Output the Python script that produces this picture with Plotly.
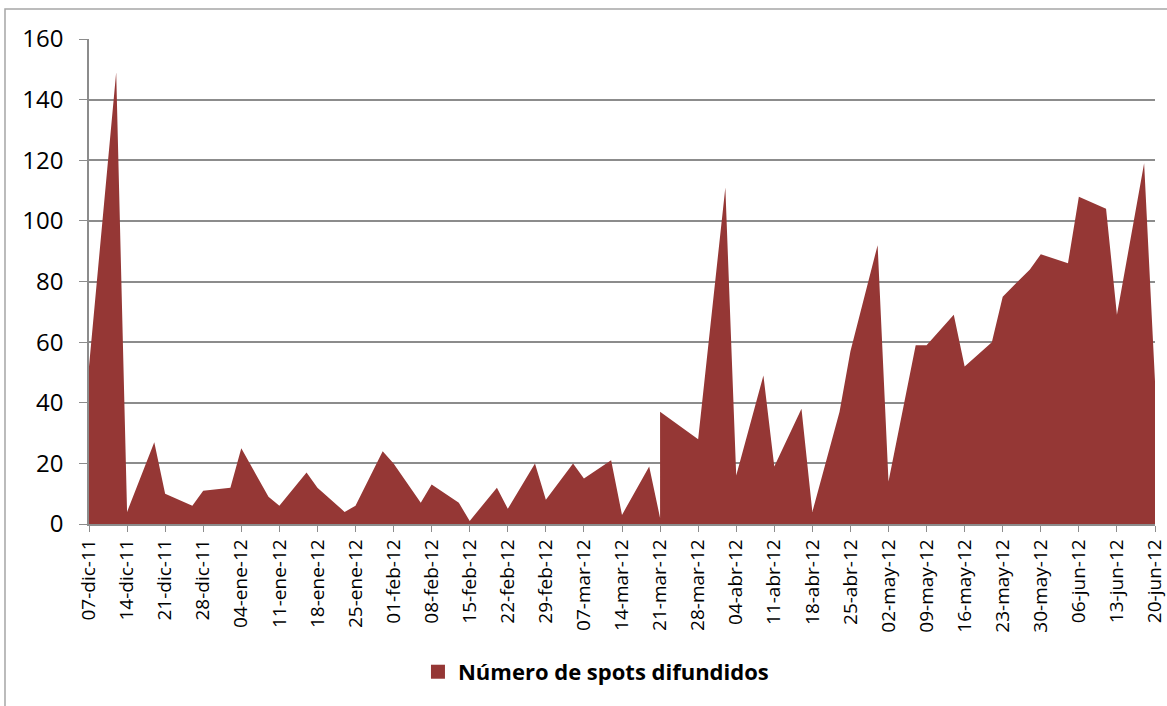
import pandas as pd
import plotly.graph_objects as go

# Spots broadcast per date
DATES = [
    '2011-12-07', '2011-12-12', '2011-12-14', '2011-12-19', '2011-12-21',
    '2011-12-26', '2011-12-28', '2012-01-02', '2012-01-04', '2012-01-09',
    '2012-01-11', '2012-01-16', '2012-01-18', '2012-01-23', '2012-01-25',
    '2012-01-30', '2012-02-01', '2012-02-06', '2012-02-08', '2012-02-13',
    '2012-02-15', '2012-02-20', '2012-02-22', '2012-02-27', '2012-02-29',
    '2012-03-05', '2012-03-07', '2012-03-12', '2012-03-14', '2012-03-19',
    '2012-03-21', '2012-03-21', '2012-03-28', '2012-04-02', '2012-04-04',
    '2012-04-09', '2012-04-11', '2012-04-16', '2012-04-18', '2012-04-23',
    '2012-04-25', '2012-04-30', '2012-05-02', '2012-05-07', '2012-05-09',
    '2012-05-14', '2012-05-16', '2012-05-21', '2012-05-23', '2012-05-28',
    '2012-05-30', '2012-06-04', '2012-06-06', '2012-06-11', '2012-06-13',
    '2012-06-18', '2012-06-20',
]
SPOTS = [
    52, 149, 4, 27, 10,
    6, 11, 12, 25, 9,
    6, 17, 12, 4, 6,
    24, 20, 7, 13, 7,
    1, 12, 5, 20, 8,
    20, 15, 21, 3, 19,
    2, 37, 28, 111, 16,
    49, 19, 38, 4, 37,
    57, 92, 14, 59, 59,
    69, 52, 60, 75, 84,
    89, 86, 108, 104, 69,
    119, 47,
]

TICK_DATES = pd.date_range('2011-12-07', '2012-06-20', freq='7D')
MESES = {12: 'dic', 1: 'ene', 2: 'feb', 3: 'mar', 4: 'abr', 5: 'may', 6: 'jun'}
TICK_LABELS = [f"{d.day:02d}-{MESES[d.month]}-{d.strftime('%y')}" for d in TICK_DATES]

SERIES_NAME = 'Número de spots difundidos'

COLORS = {
    'fill': '#953735',
    'grid': '#8c8c8c',
    'border': '#a6a6a6',
    'text': '#000000',
}
FONT = 'Open Sans, sans-serif'

fig = go.Figure()

fig.add_trace(
    go.Scatter(
        x=pd.to_datetime(DATES),
        y=SPOTS,
        mode='lines',
        fill='tozeroy',
        fillcolor=COLORS['fill'],
        line=dict(width=0, color=COLORS['fill']),
        showlegend=False,
        hoverinfo='x+y',
    )
)

# legend entry drawn as a square swatch
fig.add_trace(
    go.Scatter(
        x=[None], y=[None],
        mode='markers',
        marker=dict(symbol='square', size=14, color=COLORS['fill']),
        name=f'<b>{SERIES_NAME}</b>',
    )
)

fig.update_layout(
    width=1167,
    height=706,
    paper_bgcolor='white',
    plot_bgcolor='white',
    margin=dict(l=89, r=12, t=39, b=182),
    font=dict(family=FONT, color=COLORS['text']),
    showlegend=True,
    legend=dict(
        orientation='h',
        x=0.3086, xanchor='left',
        y=-0.305, yanchor='middle',
        font=dict(size=22, family=FONT),
        itemwidth=30,
    ),
    xaxis=dict(
        type='date',
        range=[TICK_DATES[0], TICK_DATES[-1]],
        tickmode='array',
        tickvals=TICK_DATES,
        ticktext=TICK_LABELS,
        tickangle=-90,
        tickfont=dict(size=19),
        ticklabeloverflow='allow',
        automargin=False,
        ticks='outside',
        ticklen=6,
        tickcolor=COLORS['grid'],
        showline=True,
        linecolor=COLORS['grid'],
        linewidth=1.5,
        showgrid=False,
        zeroline=False,
    ),
    yaxis=dict(
        range=[0, 160],
        tickvals=list(range(0, 161, 20)),
        tickfont=dict(size=24),
        automargin=False,
        ticks='outside',
        ticklen=8,
        tickcolor=COLORS['grid'],
        showline=True,
        linecolor=COLORS['grid'],
        linewidth=1.5,
        showgrid=True,
        gridcolor=COLORS['grid'],
        gridwidth=1.5,
        zeroline=False,
        ticklabelstandoff=11,
    ),
    shapes=[
        dict(
            type='rect', xref='paper', yref='paper',
            x0=-0.0788, x1=1.02, y0=-0.39, y1=1.0619,
            line=dict(color=COLORS['border'], width=1.5),
            layer='below',
        )
    ],
)

# drop the page's default body margin so the figure sits at the window origin
fig.write_html(
    'out.html',
    config={'displayModeBar': False},
    post_script="document.body.style.margin = '0';",
)
